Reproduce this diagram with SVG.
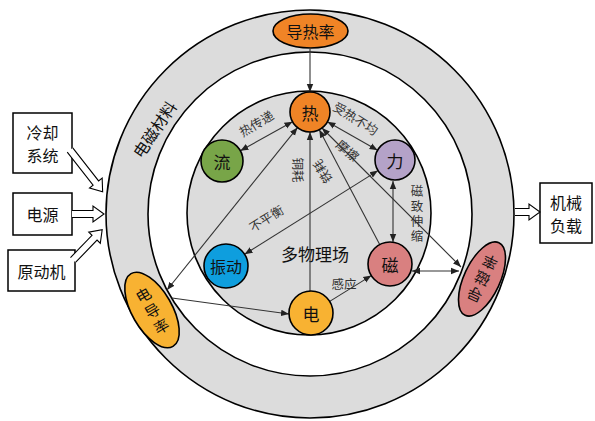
<svg xmlns="http://www.w3.org/2000/svg" width="595" height="421" viewBox="0 0 595 421">
<style>
.ring{fill:#dcdcdc;stroke:#000;stroke-width:1.6}
.ln{stroke:#333;stroke-width:1.1;fill:none}
.box{fill:#fff;stroke:#000;stroke-width:1.5}
.hol{fill:#fff;stroke:#000;stroke-width:1.1}
.nd{stroke:#000;stroke-width:1.6}
.t{font-family:"Noto Sans CJK SC","Noto Sans CJK JP",sans-serif;fill:#111;text-anchor:middle;dominant-baseline:central}
.lb{font-family:"Noto Sans CJK SC","Noto Sans CJK JP",sans-serif;fill:#333;font-size:12.5px;text-anchor:middle;dominant-baseline:central}
.vt{writing-mode:vertical-rl;letter-spacing:2.5px}
</style>
<defs>
<marker id="ah" viewBox="0 0 10 10" refX="10" refY="5" markerWidth="8" markerHeight="8" markerUnits="userSpaceOnUse" orient="auto-start-reverse">
<path d="M0,1 L10,5 L0,9 z" fill="#222"/>
</marker>
</defs>
<g id="rings">
<circle cx="310" cy="214" r="204" class="ring"/>
<circle cx="310" cy="214" r="162" fill="#fff" stroke="#000" stroke-width="1.6"/>
<circle cx="309" cy="213" r="122" class="ring"/>
<text class="t" font-size="16" transform="translate(154,129) rotate(-56)">电磁材料</text>
<text class="t" font-size="17" x="315" y="253" fill="#333">多物理场</text>
</g>
<g id="inputs">
<g id="cooling"><rect x="13" y="113" width="59" height="60" class="box"/><text class="t" font-size="16" x="42.5" y="132">冷却</text><text class="t" font-size="16" x="42.5" y="155">系统</text></g>
<g id="power"><rect x="13" y="193" width="59" height="42" class="box"/><text class="t" font-size="16" x="42.5" y="214">电源</text></g>
<g id="prime"><rect x="8" y="250" width="67" height="41" class="box"/><text class="t" font-size="16" x="41.5" y="270.5">原动机</text></g>
<g id="load"><rect x="540" y="183" width="52" height="60" class="box"/><text class="t" font-size="16" x="566" y="202">机械</text><text class="t" font-size="16" x="566" y="225">负载</text></g>
</g>
<g id="hollow-arrows">
<path class="hol" transform="translate(70,150) rotate(52)" d="M0,-3.5 H42 V-8 L53,0 L42,8 V3.5 H0"/>
<path class="hol" transform="translate(72,214)" d="M0,-3.5 H21 V-8 L32,0 L21,8 V3.5 H0"/>
<path class="hol" transform="translate(73,260) rotate(-46)" d="M0,-3.5 H31 V-8 L42,0 L31,8 V3.5 H0"/>
<path class="hol" transform="translate(515,212)" d="M0,-3.5 H14 V-8 L25,0 L14,8 V3.5 H0"/>
</g>
<g id="connectors">
<line class="ln" x1="310" y1="49" x2="310" y2="92" marker-end="url(#ah)"/>
<line class="ln" x1="292.5" y1="121.7" x2="240.4" y2="150.8" marker-start="url(#ah)" marker-end="url(#ah)"/>
<line class="ln" x1="327.4" y1="121.8" x2="377.6" y2="150.2" marker-start="url(#ah)" marker-end="url(#ah)"/>
<line class="ln" x1="378" y1="170.6" x2="244.6" y2="254.3" marker-start="url(#ah)" marker-end="url(#ah)"/>
<line class="ln" x1="310" y1="291" x2="310" y2="132" marker-end="url(#ah)"/>
<line class="ln" x1="379.7" y1="244.5" x2="319.3" y2="129.7" marker-end="url(#ah)"/>
<line class="ln" x1="297.5" y1="127.6" x2="167" y2="290" marker-start="url(#ah)" marker-end="url(#ah)"/>
<line class="ln" x1="322" y1="128" x2="461" y2="267" marker-start="url(#ah)" marker-end="url(#ah)"/>
<line class="ln" x1="172" y1="298" x2="289" y2="314" marker-end="url(#ah)"/>
<line class="ln" x1="329.7" y1="301.4" x2="371.3" y2="275.6" marker-end="url(#ah)"/>
<line class="ln" x1="393" y1="181" x2="393" y2="242" marker-start="url(#ah)" marker-end="url(#ah)"/>
<line class="ln" x1="412" y1="271" x2="459" y2="271" marker-start="url(#ah)" marker-end="url(#ah)"/>
<text class="lb" transform="translate(256,123) rotate(-31)">热传递</text>
<text class="lb" transform="translate(356,118) rotate(32)">受热不均</text>
<text class="lb" transform="translate(348,150) rotate(40)">摩擦</text>
<text class="lb" transform="translate(266,218) rotate(-32)">不平衡</text>
<text class="lb" transform="translate(298,170) rotate(90)">铜耗</text>
<text class="lb" transform="translate(322,172) rotate(-120)">铁耗</text>
<text class="lb" x="344" y="283">感应</text>
<text class="lb vt" x="417" y="215">磁致伸缩</text>
</g>
<g id="n-daorelv"><ellipse cx="310.5" cy="31" rx="37.5" ry="17" fill="#f08426" class="nd"/><text class="t" font-size="16" x="310.5" y="31">导热率</text></g>
<g id="n-re"><circle cx="310" cy="112" r="20" fill="#f08426" class="nd"/><text class="t" font-size="17" x="310" y="112">热</text></g>
<g id="n-liu"><circle cx="222" cy="161" r="21" fill="#78a548" class="nd"/><text class="t" font-size="17" x="222" y="161">流</text></g>
<g id="n-li"><circle cx="395" cy="160" r="20" fill="#b4a2c8" class="nd"/><text class="t" font-size="17" x="395" y="160">力</text></g>
<g id="n-zhendong"><circle cx="226" cy="266" r="22" fill="#0e9ede" class="nd"/><text class="t" font-size="16" x="226" y="266">振动</text></g>
<g id="n-ci"><circle cx="390" cy="264" r="22" fill="#d98080" class="nd"/><text class="t" font-size="17" x="390" y="264">磁</text></g>
<g id="n-dian"><circle cx="311" cy="313" r="22" fill="#f8b232" class="nd"/><text class="t" font-size="17" x="311" y="313">电</text></g>
<g id="n-diandaolv"><ellipse cx="152" cy="310" rx="20" ry="42" transform="rotate(-30 152 310)" fill="#f8b232" class="nd"/><g transform="translate(152,310) rotate(-30)"><text class="t" font-size="15" x="0" y="-18">电</text><text class="t" font-size="15" x="0" y="0">导</text><text class="t" font-size="15" x="0" y="18">率</text></g></g>
<g id="n-daocilv"><ellipse cx="482" cy="279" rx="18" ry="40" transform="rotate(25 482 279)" fill="#d98080" class="nd"/><g transform="translate(482,279) rotate(205)"><text class="t" font-size="15" x="0" y="-18">导</text><text class="t" font-size="15" x="0" y="0">磁</text><text class="t" font-size="15" x="0" y="18">率</text></g></g>
</svg>
